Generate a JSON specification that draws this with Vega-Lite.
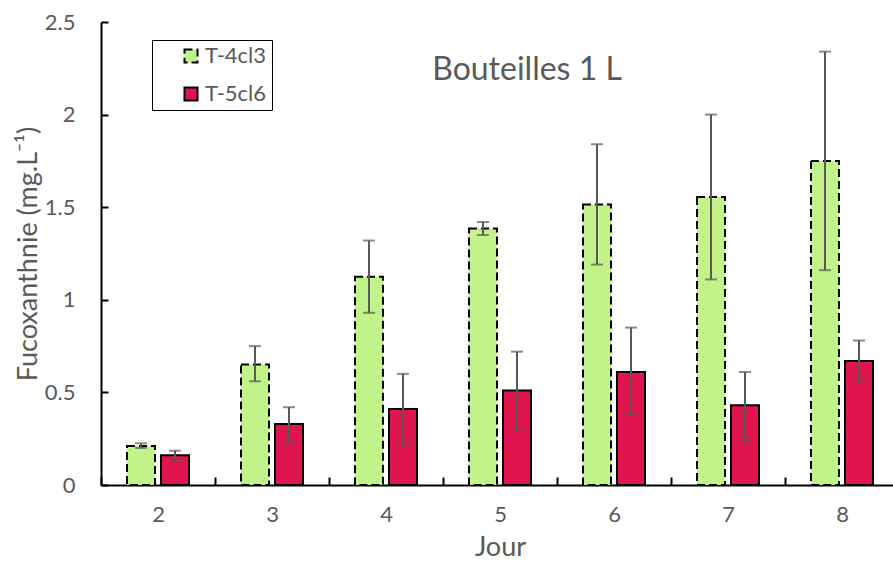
{
  "$schema": "https://vega.github.io/schema/vega-lite/v6.json",
  "width": 798,
  "height": 463,
  "autosize": "none",
  "padding": {"left": 101, "top": 22, "right": 0, "bottom": 76},
  "background": "white",
  "config": {
    "font": "Lato",
    "view": {"stroke": null},
    "axis": {"grid": false, "domainColor": "black", "domainWidth": 2, "tickColor": "black", "tickWidth": 2, "labelColor": "#595959", "titleColor": "#595959", "labelFont": "Lato", "titleFont": "Lato", "titleFontWeight": "normal"}
  },
  "title": {"text": "Bouteilles 1 L", "fontSize": 32, "font": "Lato", "fontWeight": "normal", "color": "#595959", "anchor": "middle", "dx": 27, "dy": 112, "baseline": "bottom"},
  "data": {"values": [
    {"jour": "2", "serie": "T-4cl3", "value": 0.21, "lo": 0.20, "hi": 0.225},
    {"jour": "2", "serie": "T-5cl6", "value": 0.16, "lo": 0.13, "hi": 0.185},
    {"jour": "3", "serie": "T-4cl3", "value": 0.65, "lo": 0.56, "hi": 0.75},
    {"jour": "3", "serie": "T-5cl6", "value": 0.33, "lo": 0.23, "hi": 0.42},
    {"jour": "4", "serie": "T-4cl3", "value": 1.125, "lo": 0.93, "hi": 1.32},
    {"jour": "4", "serie": "T-5cl6", "value": 0.41, "lo": 0.22, "hi": 0.60},
    {"jour": "5", "serie": "T-4cl3", "value": 1.385, "lo": 1.35, "hi": 1.42},
    {"jour": "5", "serie": "T-5cl6", "value": 0.51, "lo": 0.30, "hi": 0.72},
    {"jour": "6", "serie": "T-4cl3", "value": 1.515, "lo": 1.19, "hi": 1.84},
    {"jour": "6", "serie": "T-5cl6", "value": 0.61, "lo": 0.38, "hi": 0.85},
    {"jour": "7", "serie": "T-4cl3", "value": 1.555, "lo": 1.11, "hi": 2.0},
    {"jour": "7", "serie": "T-5cl6", "value": 0.43, "lo": 0.24, "hi": 0.61},
    {"jour": "8", "serie": "T-4cl3", "value": 1.75, "lo": 1.16, "hi": 2.34},
    {"jour": "8", "serie": "T-5cl6", "value": 0.67, "lo": 0.56, "hi": 0.78}
  ]},
  "encoding": {
    "x": {"field": "jour", "type": "ordinal", "scale": {"paddingInner": 0, "paddingOuter": 0},
      "axis": {"title": "Jour", "labelAngle": 0, "labelFontSize": 22, "titleFontSize": 27, "tickBand": "extent", "tickSize": -8, "labelPadding": 27, "titlePadding": 9}},
    "xOffset": {"field": "serie", "type": "nominal", "scale": {"paddingInner": 0.176, "paddingOuter": 0.765}}
  },
  "layer": [
    {
      "mark": {"type": "bar", "stroke": "black", "strokeWidth": 2},
      "encoding": {
        "y": {"field": "value", "type": "quantitative", "scale": {"domain": [0, 2.5], "nice": false},
          "axis": {"title": "Fucoxanthnie (mg.L⁻¹)", "values": [0, 0.5, 1, 1.5, 2, 2.5], "format": ".2~f", "labelFontSize": 22, "titleFontSize": 27, "tickSize": -7, "labelPadding": 33, "titlePadding": 2}},
        "fill": {"field": "serie", "type": "nominal", "scale": {"domain": ["T-4cl3", "T-5cl6"], "range": ["#c2f28a", "#e0144f"]},
          "legend": {"title": null, "orient": "none", "legendX": 51, "legendY": 18, "strokeColor": "black", "padding": 5, "symbolType": "square", "symbolSize": 170, "symbolStrokeColor": "black", "symbolStrokeWidth": 2, "symbolOffset": 23, "labelOffset": 3, "labelFontSize": 22, "labelColor": "#595959", "labelFont": "Lato", "rowPadding": 16, "fillColor": "white"}},
        "strokeDash": {"field": "serie", "type": "nominal", "scale": {"domain": ["T-4cl3", "T-5cl6"], "range": [[8, 4], [1, 0]]}, "legend": null}
      }
    },
    {
      "mark": {"type": "rule", "color": "#595959", "strokeWidth": 2},
      "encoding": {"y": {"field": "lo", "type": "quantitative"}, "y2": {"field": "hi"}}
    },
    {
      "mark": {"type": "tick", "color": "#595959", "thickness": 2, "size": 12},
      "encoding": {"y": {"field": "lo", "type": "quantitative"}}
    },
    {
      "mark": {"type": "tick", "color": "#595959", "thickness": 2, "size": 12},
      "encoding": {"y": {"field": "hi", "type": "quantitative"}}
    }
  ]
}
